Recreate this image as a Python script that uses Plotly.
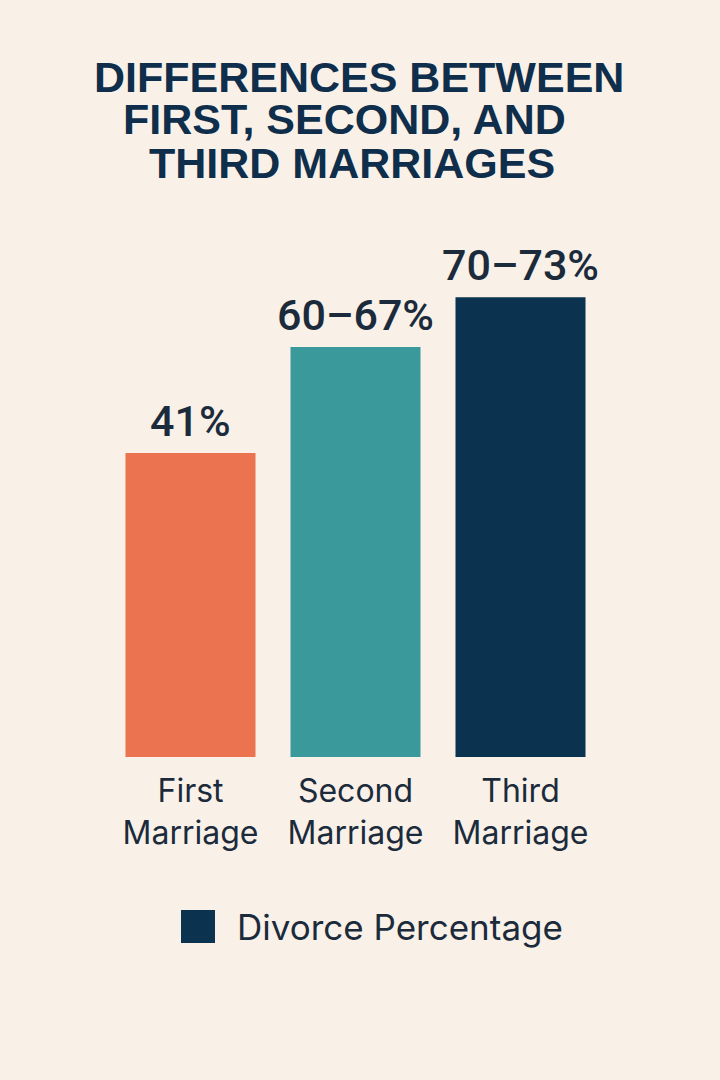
import plotly.graph_objects as go

# data
categories = ['First<br>Marriage', 'Second<br>Marriage', 'Third<br>Marriage']
bar_height = [41, 55.3, 62.0]          # bar heights, scaled against the 41% bar
value_labels = ['41%', '60–67%', '70–73%']
bar_colors = ['#EC7350', '#3A999B', '#0B3350']
legend_name = 'Divorce Percentage'
title_lines = ['DIFFERENCES BETWEEN', 'FIRST, SECOND, AND', 'THIRD MARRIAGES']

W, H = 720, 1080
L, R, T, B = 108, 117, 238, 323
plot_w = W - L - R
plot_h = H - T - B

def px_x(px):
    return (px - L) / plot_w

def px_y(py):
    return (H - B - py) / plot_h

bg = '#F9F1E8'
navy = '#0F2E4B'
text_col = '#1C2B3B'

fig = go.Figure()
fig.add_trace(go.Bar(
    x=categories, y=bar_height,
    marker=dict(color=bar_colors, line=dict(width=0)),
    showlegend=False, hoverinfo='skip',
))

# value labels above the bars
for cat, h, lab in zip(categories, bar_height, value_labels):
    fig.add_annotation(
        x=cat, y=h, text=lab, showarrow=False, yanchor='bottom', yshift=5,
        font=dict(family='Roboto', size=43, color=text_col, weight=500),
    )

# title, one annotation per line to keep the tight line spacing
title_centers = [(359, 77), (344, 119), (352, 163)]
for line, (cx, cy) in zip(title_lines, title_centers):
    fig.add_annotation(
        text=line, xref='paper', yref='paper', x=px_x(cx), y=px_y(cy),
        xanchor='center', yanchor='middle', showarrow=False,
        font=dict(family='Liberation Sans', size=43, color=navy, weight='bold'),
    )

# legend drawn by hand: large square swatch + label
fig.add_shape(type='rect', xref='paper', yref='paper',
              x0=px_x(181), x1=px_x(215), y0=px_y(943), y1=px_y(910),
              fillcolor=bar_colors[2], line=dict(width=0))
fig.add_annotation(
    text=legend_name, xref='paper', yref='paper', x=px_x(235), y=px_y(927),
    xanchor='left', yanchor='middle', showarrow=False,
    font=dict(family='Inter', size=35, color=text_col),
)

fig.update_layout(
    width=W, height=H,
    margin=dict(l=L, r=R, t=T, b=B),
    paper_bgcolor=bg, plot_bgcolor=bg,
    bargap=0.212,
    showlegend=False,
    xaxis=dict(showgrid=False, showline=False, zeroline=False, ticks='',
               tickfont=dict(family='Inter', size=32, color=text_col),
               ticklabelstandoff=12),
    yaxis=dict(range=[0, 70], visible=False),
)

fig.write_html('out.html', config={'displayModeBar': False},
               post_script="document.body.style.margin='0';"
                           "document.body.style.background='" + bg + "';")
